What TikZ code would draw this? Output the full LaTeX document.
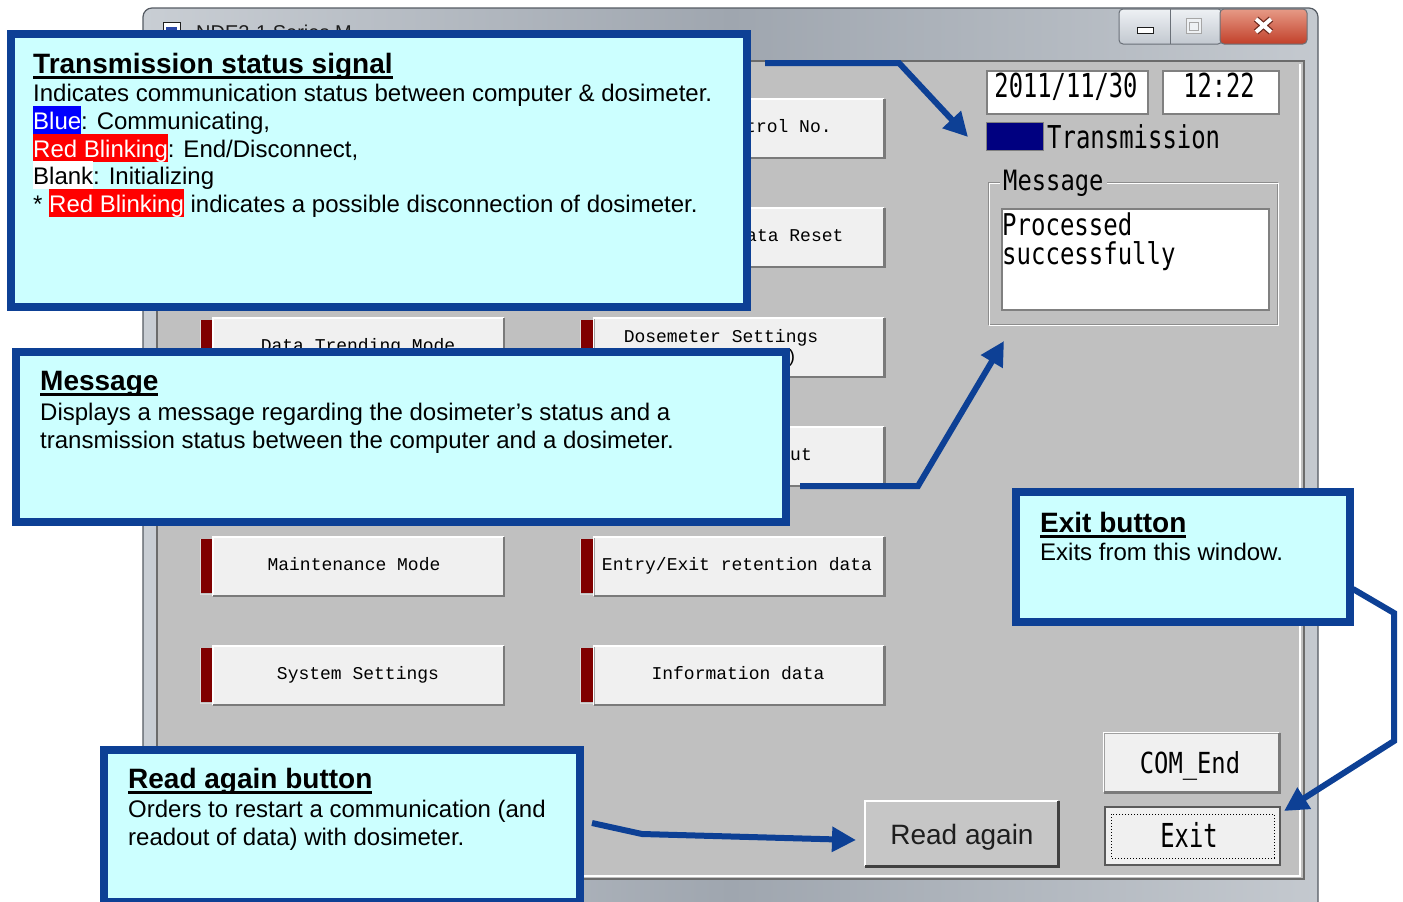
\documentclass[tikz,border=0pt]{standalone}
\usepackage{fontspec}
\usepackage{graphicx}
\setmainfont{Liberation Sans}
\newfontfamily\gothicraw{DejaVu Sans Mono}
\newfontfamily\btnmono{Liberation Mono}
\usetikzlibrary{arrows.meta}
\definecolor{cfill}{HTML}{CCFFFF}
\definecolor{cblue}{HTML}{0D4095}
\definecolor{winbg}{HTML}{C0C0C0}
\definecolor{btnface}{HTML}{F0F0F0}
\definecolor{indred}{HTML}{800000}
\definecolor{navyind}{HTML}{000080}
\definecolor{hlblue}{HTML}{0000FF}
\definecolor{hlred}{HTML}{FF0000}
\definecolor{tbL}{HTML}{C9CED4}
\definecolor{tbM}{HTML}{9FA6AF}
\definecolor{tbR}{HTML}{C4C9CF}
\definecolor{winedge}{HTML}{555B63}
\definecolor{clientedge}{HTML}{6B6B6B}
\definecolor{boxedge}{HTML}{808080}
\definecolor{btnedge}{HTML}{A0A0A0}
\definecolor{btndark}{HTML}{7A7A7A}
\definecolor{capTop}{HTML}{EEF1F4}
\definecolor{capBot}{HTML}{C2C8D0}
\definecolor{capEdge}{HTML}{6A7078}
\definecolor{closeTop}{HTML}{E69A86}
\definecolor{closeBot}{HTML}{C2402A}
\definecolor{closeEdge}{HTML}{6E2A1E}
\definecolor{grooveD}{HTML}{8C8C8C}
\definecolor{rdface}{HTML}{C6C6C6}
\definecolor{rddark}{HTML}{404040}
\definecolor{titletxt}{HTML}{1E1E1E}
\definecolor{iconblue}{HTML}{2A48A8}
\definecolor{exitedge}{HTML}{5A5A5A}
\newcommand\gt[3]{\scalebox{#1}[1]{\gothicraw\fontsize{#2}{#2}\selectfont #3}}
\newcommand\ttlul[1]{\setbox0\hbox{#1}\rlap{\rule[-5.5pt]{\wd0}{2.6pt}}\box0}
\newcommand\hlbox[3]{{\setlength\fboxsep{0pt}\colorbox{#1}{\rule[-5pt]{0pt}{28pt}\textcolor{#2}{#3}}}}
\begin{document}
\begin{tikzpicture}[x=1pt,y=-1pt,
  callout/.style={draw=cblue,fill=cfill,line width=8pt,inner sep=0pt,rectangle},
  ctitle/.style={font=\bfseries\fontsize{28}{32}\selectfont,anchor=base west,inner sep=0pt},
  cbody/.style={font=\fontsize{24}{28}\selectfont,anchor=base west,inner sep=0pt},
  conn/.style={draw=cblue,line width=6pt,-{Triangle[length=24pt,width=24pt]}},
  appbtn/.style={draw=btnedge,fill=btnface,line width=0.8pt,inner sep=0pt,rectangle,minimum width=290pt,minimum height=58pt},
  btntext/.style={font=\btnmono\fontsize{18}{20}\selectfont,inner sep=0pt,anchor=base},
  wbox/.style={draw=boxedge,fill=white,line width=1.5pt,inner sep=0pt,rectangle},
  gtxt/.style={inner sep=0pt,anchor=base}]
\useasboundingbox (0,0) rectangle (1403,902);
\clip (0,0) rectangle (1403,902);
\fill[white] (0,0) rectangle (1403,902);
% ---------- window frame ----------
\draw[draw=winedge,line width=1.2pt,left color=tbL,right color=tbR,middle color=tbM,rounded corners=9pt] (143,8) rectangle (1318,920);
\fill[winbg] (157,61) rectangle (1304,879);
\draw[clientedge,line width=1.5pt] (157,61) rectangle (1304,879);
\draw[white,line width=1.2pt] (1300,64) -- (1300,876) -- (160,876);
% caption buttons
\draw[capEdge,line width=1pt,top color=capTop,bottom color=capBot,rounded corners=4pt] (1119,9) rectangle (1222,44);
\draw[capEdge,line width=0.8pt] (1170,9) -- (1170,44);
\draw[capEdge,line width=1pt,top color=closeTop,bottom color=closeBot,rounded corners=4pt] (1220,9) rectangle (1307,44);
\draw[titletxt,fill=white,line width=0.8pt] (1137,27) rectangle (1153,33);
\draw[boxedge!70,fill=capTop,line width=0.8pt] (1186,18) rectangle (1201,33);
\draw[boxedge!70,line width=0.8pt] (1189,22) rectangle (1198,30);
\draw[closeEdge,line width=6.5pt] (1256,19) -- (1271,32) (1271,19) -- (1256,32);
\draw[white,line width=4pt] (1256,19) -- (1271,32) (1271,19) -- (1256,32);
% title icon and text
\draw[titletxt,fill=white,line width=0.8pt] (163,22) rectangle (180,40);
\fill[iconblue] (166,27) rectangle (177,37);
\node[anchor=base west,inner sep=0pt,text=titletxt,font=\fontsize{20}{22}\selectfont] (wtitle) at (196,39) {NDE2-1 Series M};
% ---------- application buttons ----------
\foreach \yy in {318,537,646}{
  \fill[indred] (200,\yy+2) rectangle (213,\yy+56);
  \draw[white!85!black,line width=1pt] (200.5,\yy+2) -- (200.5,\yy+57) -- (213,\yy+57);
  \fill[indred] (580,\yy+2) rectangle (593,\yy+56);
  \draw[white!85!black,line width=1pt] (580.5,\yy+2) -- (580.5,\yy+57) -- (593,\yy+57);
}
\node[appbtn] (bR1) at (739,128.5) {};
\node[appbtn] (bR2) at (739,237.5) {};
\node[appbtn] (bR3) at (739,347.5) {};
\node[appbtn] (bR4) at (739,456.5) {};
\node[appbtn] (bR5) at (739,566.5) {};
\node[appbtn] (bR6) at (739,675.5) {};
\node[appbtn] (bL3) at (358.5,347.5) {};
\node[appbtn] (bL5) at (358.5,566.5) {};
\node[appbtn] (bL6) at (358.5,675.5) {};
\foreach \n in {bR1,bR2,bR3,bR4,bR5,bR6,bL3,bL5,bL6}{
  \draw[white,line width=1.5pt] (\n.south west) -- (\n.north west) -- (\n.north east);
  \draw[btndark,line width=2.5pt] (\n.north east) -- (\n.south east) -- (\n.south west);
}
\node[btntext] (tDT) at (358,351) {Data Trending Mode};
\node[btntext] (tDS) at (721,342) {Dosemeter Settings};
\node[btntext,anchor=base west] (tDS2) at (786,362) {)};
\node[btntext,anchor=base west] (tCN) at (745,132) {trol No.};
\node[btntext,anchor=base west] (tDR) at (746,241) {ata Reset};
\node[btntext,anchor=base west] (tOut) at (790,460) {ut};
\node[btntext] (tMM) at (354,570) {Maintenance Mode};
\node[btntext] (tEE) at (737,570) {Entry/Exit retention data};
\node[btntext] (tSS) at (358,679) {System Settings};
\node[btntext] (tID) at (738,679) {Information data};
% ---------- right panel ----------
\node[wbox,minimum width=161pt,minimum height=43pt] (date) at (1067.5,92.5) {};
\node[gtxt] (dateT) at (1066,97) {\gt{0.72}{33}{2011/11/30}};
\node[wbox,minimum width=116pt,minimum height=43pt] (time) at (1221,92.5) {};
\node[gtxt] (timeT) at (1219,97) {\gt{0.72}{33}{12:22}};
\node[draw=boxedge,fill=navyind,line width=1pt,minimum width=57pt,minimum height=28pt,inner sep=0pt] (sig) at (1015,136.5) {};
\node[gtxt,anchor=base west] (sigT) at (1047,148) {\gt{0.76}{31.5}{Transmission}};
\draw[grooveD,line width=1pt] (988,182) rectangle (1277,324);
\draw[white,line width=1pt] (989.5,183.5) rectangle (1278.5,325.5);
\node[gtxt,anchor=base west,fill=winbg,inner xsep=3pt,inner ysep=1pt] (msgL) at (1000,190) {\gt{0.85}{28}{Message}};
\node[wbox,minimum width=267pt,minimum height=101pt] (msgbox) at (1135.5,259.5) {};
\node[gtxt,anchor=base west] (msg1) at (1002,235) {\gt{0.80}{30}{Processed}};
\node[gtxt,anchor=base west] (msg2) at (1002,264) {\gt{0.80}{30}{successfully}};
% COM_End
\node[draw=btnedge,fill=btnface,line width=0.8pt,inner sep=0pt,minimum width=175pt,minimum height=59pt] (com) at (1191.5,762.5) {};
\draw[white,line width=1.5pt] (com.south west) -- (com.north west) -- (com.north east);
\draw[btndark,line width=2.5pt] (com.north east) -- (com.south east) -- (com.south west);
\node[gtxt] (comT) at (1190,773) {\gt{0.82}{29}{COM\_End}};
% Exit
\node[draw=exitedge,fill=btnface,line width=2pt,inner sep=0pt,minimum width=175pt,minimum height=58pt] (exitb) at (1192.5,836) {};
\draw[black,line width=1pt,dotted] (1111,814) rectangle (1274,858);
\node[gtxt] (exitT) at (1189,847) {\gt{0.72}{33}{Exit}};
% Read again
\node[fill=rdface,inner sep=0pt,minimum width=193pt,minimum height=65pt] (readb) at (961.5,833.5) {};
\draw[white,line width=2pt] (readb.south west) -- (readb.north west) -- (readb.north east);
\draw[rddark,line width=3pt] (readb.north east) -- (readb.south east) -- (readb.south west);
\node[gtxt,text=titletxt,font=\fontsize{28}{30}\selectfont] (readT) at (962,844) {Read again};
% ---------- callouts ----------
\node[callout,minimum width=736pt,minimum height=273pt] (c1) at (379,170.5) {};
\node[ctitle] (c1t) at (33,73) {\ttlul{Transmission status signal}};
\node[cbody] (c1a) at (33,101) {Indicates communication status between computer \& dosimeter.};
\node[cbody] (c1b) at (33,129) {\hlbox{hlblue}{white}{Blue}: Communicating,};
\node[cbody] (c1c) at (33,157) {\hlbox{hlred}{white}{Red Blinking}: End/Disconnect,};
\node[cbody] (c1d) at (33,184) {\hlbox{white}{black}{Blank}: Initializing};
\node[cbody] (c1e) at (33,212) {* \hlbox{hlred}{white}{Red Blinking} indicates a possible disconnection of dosimeter.};
\node[callout,minimum width=770pt,minimum height=170pt] (c2) at (401,437) {};
\node[ctitle] (c2t) at (40,390) {\ttlul{Message}};
\node[cbody] (c2a) at (40,420) {Displays a message regarding the dosimeter’s status and a};
\node[cbody] (c2b) at (40,448) {transmission status between the computer and a dosimeter.};
\node[callout,minimum width=334pt,minimum height=130pt] (c3) at (1183,557) {};
\node[ctitle] (c3t) at (1040,532) {\ttlul{Exit button}};
\node[cbody] (c3a) at (1040,560) {Exits from this window.};
\node[callout,minimum width=476pt,minimum height=152pt] (c4) at (342,826) {};
\node[ctitle] (c4t) at (128,788) {\ttlul{Read again button}};
\node[cbody] (c4a) at (128,817) {Orders to restart a communication (and};
\node[cbody] (c4b) at (128,845) {readout of data) with dosimeter.};
% ---------- connectors ----------
\coordinate (a1s) at (765,63);
\coordinate (a1m) at (899,63);
\coordinate (a1e) at (968,137);
\draw[conn] (a1s) -- (a1m) -- (a1e);
\coordinate (a2s) at (800,486);
\coordinate (a2m) at (918,486);
\coordinate (a2e) at (1004,341);
\draw[conn] (a2s) -- (a2m) -- (a2e);
\coordinate (a3s) at (1353,589);
\coordinate (a3m) at (1394,613);
\coordinate (a3n) at (1394,741);
\coordinate (a3e) at (1284,811);
\draw[conn] (a3s) -- (a3m) -- (a3n) -- (a3e);
\coordinate (a4s) at (592,823);
\coordinate (a4m) at (642,834);
\coordinate (a4e) at (856,840);
\draw[conn] (a4s) -- (a4m) -- (a4e);
\end{tikzpicture}
\end{document}
